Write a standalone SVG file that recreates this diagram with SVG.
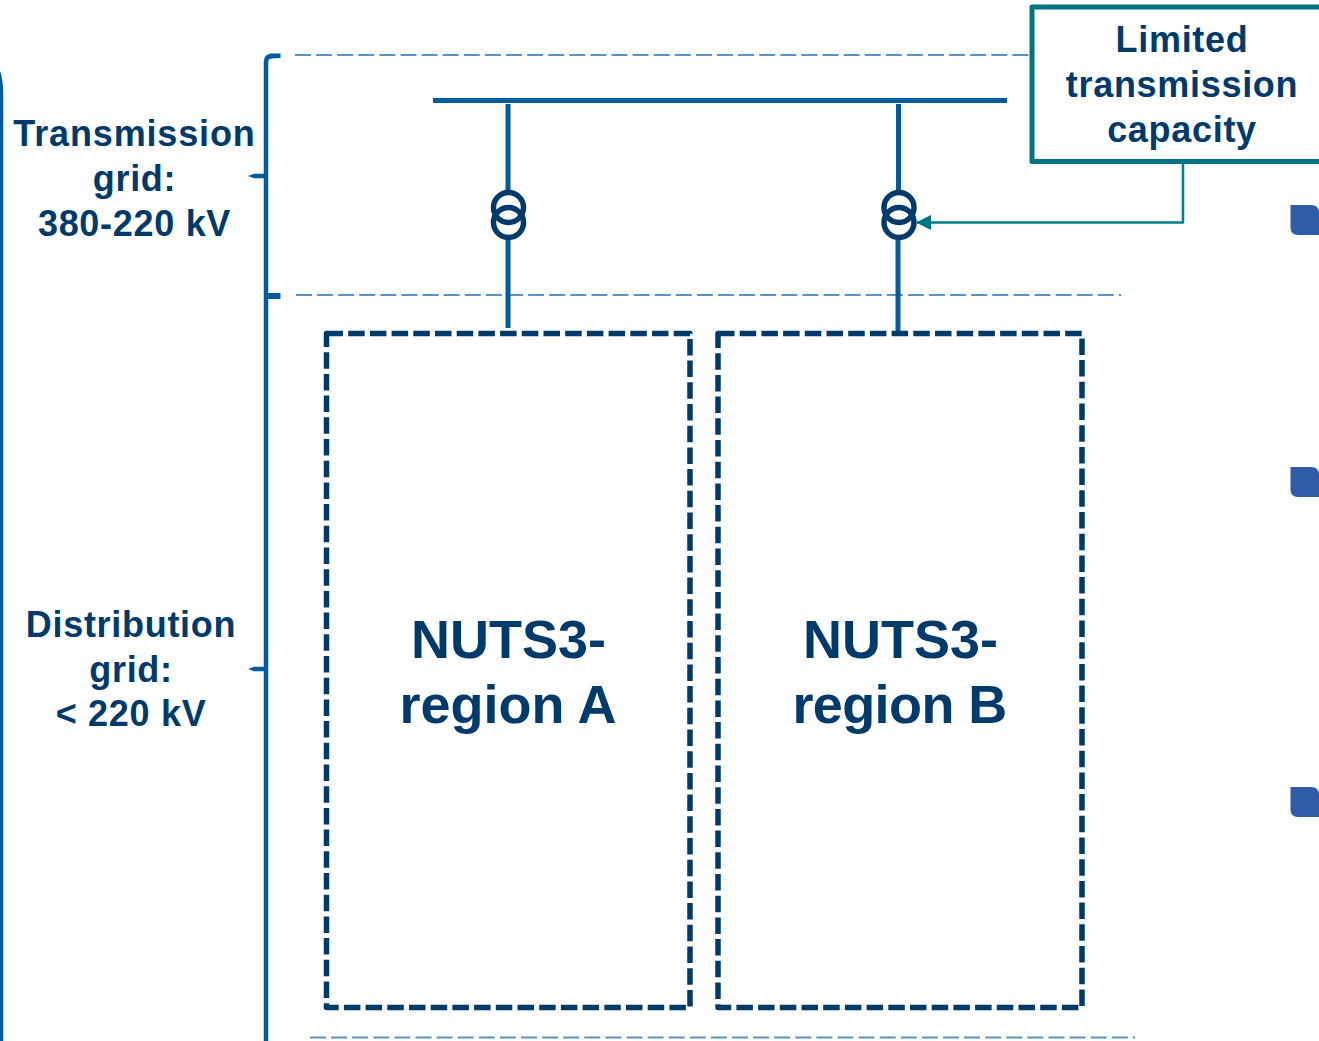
<svg xmlns="http://www.w3.org/2000/svg" width="1319" height="1041" viewBox="0 0 1319 1041">
<style>
text{font-family:"Liberation Sans",Arial,sans-serif;font-weight:700;fill:#003a6b;text-anchor:middle}
.lab{font-size:36px;letter-spacing:.7px}
.big{font-size:54px}
.g{fill:none;stroke:#005a9e;stroke-linejoin:round}
.f{fill:#005a9e}
.d{fill:none;stroke:#5b93c7;stroke-width:2;stroke-dasharray:16 5.100}
.r{fill:none;stroke:#003a6b;stroke-width:5.500;stroke-dasharray:16.500 5.200;stroke-linejoin:round}
.t{fill:none;stroke:#003a6b;stroke-width:5.500}
.b{fill:#2f5ca8}
</style>
<defs>
<marker id="ah" markerUnits="userSpaceOnUse" markerWidth="16" markerHeight="16" refX="14" refY="8" orient="auto"><path d="M0 0.500L15 8L0 15.500Z" fill="#007480"/></marker>
</defs>
<g id="guides">
<path class="d" d="M295 55H1030"/>
<path class="d" d="M296 295H1121"/>
<path class="d" d="M310 1037.500H1135"/>
</g>
<g id="brackets">
<path class="g" stroke-width="4.500" d="M-2 72Q1 80 1 95V1041"/>
<path class="g" stroke-width="4.500" d="M272 56Q266 56 266 62V1041"/>
<path class="f" d="M270 53.500H280.500V58L270 58.500Z"/>
<path class="f" d="M248 176L254 173.800H266V178.200H254Z"/>
<path class="f" d="M266 293H280.500V299H266Z"/>
<path class="f" d="M248 669L254 666.800H266V671.200H254Z"/>
</g>
<g id="connectors">
<path class="g" stroke-width="5" d="M433 100.500H1007"/>
<path class="g" stroke-width="5" d="M508 104V192M508 238V328"/>
<path class="g" stroke-width="5" d="M898.500 104V192M898 238V333"/>
<path fill="none" stroke="#007f88" stroke-width="2.500" stroke-linejoin="round" d="M1183 163V222.500H917" marker-end="url(#ah)"/>
</g>
<g id="transformer-a">
<circle class="t" cx="508.500" cy="207.500" r="15"/>
<circle class="t" cx="508.500" cy="222.500" r="15"/>
</g>
<g id="transformer-b">
<circle class="t" cx="899" cy="207.500" r="15"/>
<circle class="t" cx="899" cy="222.500" r="15"/>
</g>
<g id="limited-capacity">
<path fill="none" stroke="#007480" stroke-width="5" stroke-linejoin="round" d="M1321 7H1032V161.500H1321"/>
<text class="lab" x="1182" y="52">Limited</text>
<text class="lab" x="1182" y="97">transmission</text>
<text class="lab" x="1182" y="142">capacity</text>
</g>
<g id="transmission-label">
<text class="lab" x="134.500" y="146" style="letter-spacing:.85px">Transmission</text>
<text class="lab" x="134.500" y="191">grid:</text>
<text class="lab" x="134.500" y="236">380-220 kV</text>
</g>
<g id="distribution-label">
<text class="lab" x="131" y="637">Distribution</text>
<text class="lab" x="131" y="682">grid:</text>
<text class="lab" x="131" y="726">&lt; 220 kV</text>
</g>
<g id="region-a">
<rect class="r" x="326.500" y="333.500" width="363.500" height="674"/>
<text class="big" x="508.500" y="657.500">NUTS3-</text>
<text class="big" x="508" y="723">region A</text>
</g>
<g id="region-b">
<rect class="r" x="718" y="333.500" width="364" height="674"/>
<text class="big" x="900.500" y="657.500">NUTS3-</text>
<text class="big" x="899.500" y="723" style="letter-spacing:-.6px">region B</text>
</g>
<g id="bullets">
<path class="b" d="M1290.500 205H1311Q1319 205 1319 213V235H1298Q1290.500 235 1290.500 227Z"/>
<path class="b" d="M1290.500 467H1311Q1319 467 1319 475V497H1298Q1290.500 497 1290.500 489Z"/>
<path class="b" d="M1290.500 787H1311Q1319 787 1319 795V817H1298Q1290.500 817 1290.500 809Z"/>
</g>
</svg>
